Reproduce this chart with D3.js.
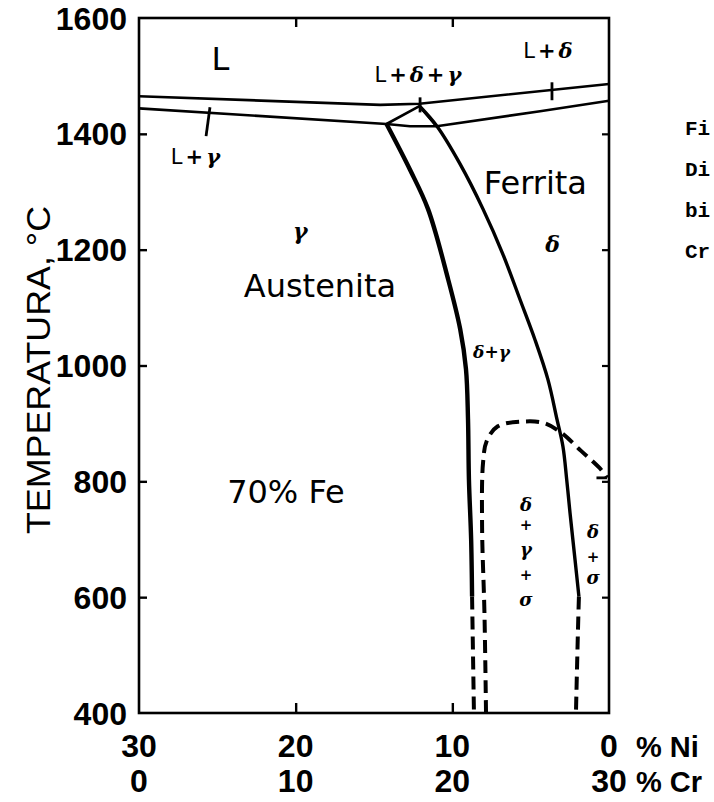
<!DOCTYPE html>
<html>
<head>
<meta charset="utf-8">
<script src="https://cdn.jsdelivr.net/npm/d3@7"></script>
<style>
  html, body { margin: 0; padding: 0; background: #fff; }
  svg { display: block; }
</style>
</head>
<body>
<svg id="chart" width="714" height="802"></svg>
<script>
// Fe-Cr-Ni section at 70% Fe: x = % Cr (Ni = 30 - Cr), y = temperature in °C
const tempTicks = [400, 600, 800, 1000, 1200, 1400, 1600];
const niTicks = [30, 20, 10, 0];
const crTicks = [0, 10, 20, 30];

// liquidus (upper) and solidus (lower) lines
const liquidus = [[0, 1465], [15.4, 1450], [17.9, 1452], [30, 1486]];
const solidus = [[0, 1444], [15.8, 1417], [17.3, 1413], [19.0, 1413], [25.6, 1439], [30, 1457]];
// small three-phase triangle under the liquidus
const triangle = [[15.8, 1417], [17.9, 1448], [19.0, 1413]];
// gamma / (delta+gamma) boundary
const gammaSolid = [[15.8, 1417], [17.3, 1338], [18.45, 1270], [19.73, 1149], [20.5, 1063], [20.87, 994], [21.0, 908], [21.06, 803], [21.2, 700], [21.26, 601]];
const gammaDashed = [[21.26, 601], [21.38, 400]];
// (delta+gamma) / delta boundary
const deltaSolid = [[17.9, 1448], [19.02, 1413], [20.49, 1348], [21.96, 1270], [23.23, 1192], [24.32, 1114], [25.27, 1045], [26.1, 976], [26.68, 907], [27.06, 860], [27.3, 803], [27.51, 746], [27.83, 665], [28.08, 601]];
const deltaDashed = [[28.08, 601], [28.02, 544], [27.89, 400]];
// sigma-phase boundary
const sigmaDashed = [[22.15, 400], [22.05, 573], [21.9, 720], [21.96, 832], [22.2, 870], [22.9, 895], [24.4, 903], [25.8, 901], [26.9, 885], [28.2, 853], [29.5, 820], [29.87, 806]];
// short leader ticks: [[cr, t0], [cr, t1]]
const leaders = [
  [[4.53, 1446], [4.28, 1396]],
  [[17.94, 1463], [17.94, 1437]],
  [[26.36, 1489], [26.36, 1458]],
  [[29.2, 806], [29.87, 806]]
];

// region labels: [text, cr, temp, style]
const regionLabels = [
  ["L", 5.2, 1530, "plain"],
  ["L+δ+γ", 17.9, 1503, "small"],
  ["L+δ", 26.2, 1543, "small"],
  ["L+γ", 3.7, 1360, "small"],
  ["Ferrita", 25.3, 1316, "plain"],
  ["γ", 10.3, 1232, "greek"],
  ["Austenita", 11.55, 1137, "plain"],
  ["δ", 26.4, 1209, "greek"],
  ["δ+γ", 22.5, 1024, "greekSmall"],
  ["70% Fe", 9.38, 782, "plain"]
];
const stackLabels = [
  [["δ", "+", "γ", "+", "σ"], 24.7, [760, 725, 682, 639, 595]],
  [["δ", "+", "σ"], 28.98, [713, 670, 633]]
];
const captionLines = ["Fi", "Di", "bi", "Cr"];

const svg = d3.select("#chart");
const margin = { left: 139, right: 105, top: 18, bottom: 89 };
const W = 714, H = 802;

const x = d3.scaleLinear().domain([0, 30]).range([margin.left, W - margin.right]);
const y = d3.scaleLinear().domain([400, 1600]).range([H - margin.bottom, margin.top]);

const line = d3.line().x(d => x(d[0])).y(d => y(d[1]));
const smooth = d3.line().x(d => x(d[0])).y(d => y(d[1])).curve(d3.curveCatmullRom.alpha(0.5));

const ink = "#000";
const numFont = "'Liberation Sans', Arial, sans-serif";
const labelFont = "'DejaVu Sans', sans-serif";
const greekFont = "'DejaVu Serif', serif";

// frame
svg.append("rect")
  .attr("x", x(0)).attr("y", y(1600))
  .attr("width", x(30) - x(0)).attr("height", y(400) - y(1600))
  .attr("fill", "none").attr("stroke", ink).attr("stroke-width", 2.6);

// inward ticks via d3 axes
const innerT = tempTicks.filter(t => t > 400 && t < 1600);
svg.append("g").attr("transform", `translate(${x(0)},0)`)
  .call(d3.axisRight(y).tickValues(innerT).tickSize(8).tickFormat(""))
  .call(g => g.select(".domain").remove())
  .selectAll("line").attr("stroke", ink).attr("stroke-width", 2.4);
svg.append("g").attr("transform", `translate(${x(30)},0)`)
  .call(d3.axisLeft(y).tickValues(innerT).tickSize(7).tickFormat(""))
  .call(g => g.select(".domain").remove())
  .selectAll("line").attr("stroke", ink).attr("stroke-width", 2.2);
const innerCr = crTicks.filter(c => c > 0 && c < 30);
svg.append("g").attr("transform", `translate(0,${y(400)})`)
  .call(d3.axisTop(x).tickValues(innerCr).tickSize(10).tickFormat(""))
  .call(g => g.select(".domain").remove())
  .selectAll("line").attr("stroke", ink).attr("stroke-width", 2.4);
svg.append("g").attr("transform", `translate(0,${y(1600)})`)
  .call(d3.axisBottom(x).tickValues(innerCr).tickSize(9).tickFormat(""))
  .call(g => g.select(".domain").remove())
  .selectAll("line").attr("stroke", ink).attr("stroke-width", 2.4);

// tick labels
svg.append("g").selectAll("text").data(tempTicks).join("text")
  .attr("x", x(0) - 12).attr("y", d => y(d))
  .attr("dy", "0.36em").attr("text-anchor", "end")
  .attr("font-family", numFont).attr("font-size", 32).attr("font-weight", "bold")
  .text(d => d);
svg.append("g").selectAll("text").data(niTicks).join("text")
  .attr("x", d => x(30 - d)).attr("y", 757)
  .attr("text-anchor", "middle")
  .attr("font-family", numFont).attr("font-size", 32).attr("font-weight", "bold")
  .text(d => d);
svg.append("g").selectAll("text").data(crTicks).join("text")
  .attr("x", d => x(d)).attr("y", 792)
  .attr("text-anchor", "middle")
  .attr("font-family", numFont).attr("font-size", 32).attr("font-weight", "bold")
  .text(d => d);
svg.append("text").attr("x", 636).attr("y", 757)
  .attr("font-family", numFont).attr("font-size", 29).attr("font-weight", "bold").text("% Ni");
svg.append("text").attr("x", 636).attr("y", 792)
  .attr("font-family", numFont).attr("font-size", 29).attr("font-weight", "bold").text("% Cr");

// axis title
svg.append("text")
  .attr("transform", `translate(50,370) rotate(-90)`)
  .attr("text-anchor", "middle")
  .attr("font-family", numFont).attr("font-size", 33)
  .attr("textLength", 328).attr("lengthAdjust", "spacingAndGlyphs")
  .text("TEMPERATURA, °C");

// phase boundaries
const thin = 2.6;
svg.append("path").attr("d", line(liquidus)).attr("fill", "none").attr("stroke", ink).attr("stroke-width", thin);
svg.append("path").attr("d", line(solidus)).attr("fill", "none").attr("stroke", ink).attr("stroke-width", thin);
svg.append("path").attr("d", line(triangle)).attr("fill", "none").attr("stroke", ink).attr("stroke-width", thin);
svg.append("path").attr("d", smooth(gammaSolid)).attr("fill", "none").attr("stroke", ink).attr("stroke-width", 4.4);
svg.append("path").attr("d", smooth(deltaSolid)).attr("fill", "none").attr("stroke", ink).attr("stroke-width", 3.4);
[gammaDashed, deltaDashed, sigmaDashed].forEach(d =>
  svg.append("path").attr("d", smooth(d)).attr("fill", "none").attr("stroke", ink)
    .attr("stroke-width", 4).attr("stroke-dasharray", "13,7"));
leaders.forEach(d =>
  svg.append("path").attr("d", line(d)).attr("fill", "none").attr("stroke", ink).attr("stroke-width", 2.8));

// region labels; greek letters set in italic serif
const isGreek = c => /[α-ω]/.test(c);
const styles = {
  plain: { size: 32 },
  small: { size: 21, spacing: 3 },
  greek: { size: 22 },
  greekSmall: { size: 17 }
};
regionLabels.forEach(([t, cr, tc, s]) => {
  const st = styles[s];
  const txt = svg.append("text").attr("x", x(cr)).attr("y", y(tc))
    .attr("text-anchor", "middle").attr("dy", "0.35em")
    .attr("font-family", labelFont).attr("font-size", st.size)
    .attr("letter-spacing", st.spacing || 0);
  Array.from(t).forEach(c => {
    const sp = txt.append("tspan").text(c);
    if (isGreek(c)) sp.attr("font-family", greekFont).attr("font-style", "italic").attr("font-weight", "bold");
    else if (c === "+" && s !== "plain") sp.attr("font-weight", "bold");
  });
});
stackLabels.forEach(([chars, cr, temps]) => {
  chars.forEach((c, i) => {
    svg.append("text").attr("x", x(cr)).attr("y", y(temps[i]))
      .attr("text-anchor", "middle").attr("dy", "0.35em")
      .attr("font-family", greekFont).attr("font-weight", "bold")
      .attr("font-style", c === "+" ? "normal" : "italic")
      .attr("font-size", c === "+" ? 15 : 18).text(c);
  });
});

// caption column at the right edge
svg.append("g").selectAll("text").data(captionLines).join("text")
  .attr("x", 685).attr("y", (d, i) => 135 + i * 41)
  .attr("font-family", "'Liberation Mono', monospace").attr("font-weight", "bold")
  .attr("font-size", 21).text(d => d);
</script>
</body>
</html>
